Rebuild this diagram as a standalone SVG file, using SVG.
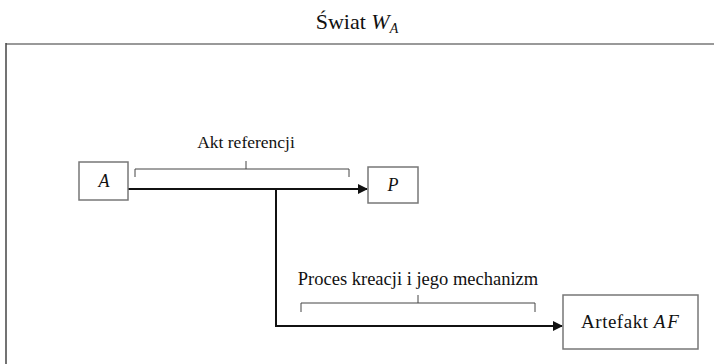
<svg xmlns="http://www.w3.org/2000/svg" width="714" height="364" viewBox="0 0 714 364">
<style>
text{font-family:"Liberation Serif","Times New Roman",serif;fill:#111}
.box{fill:#fff;stroke:#777;stroke-width:1.5}
.conn{fill:none;stroke:#111;stroke-width:2}
.br{fill:none;stroke:#444;stroke-width:1}
</style>
<defs>
<marker id="ah" markerWidth="10" markerHeight="10" refX="9" refY="5" orient="auto" markerUnits="userSpaceOnUse">
<path d="M0,0 L10,5 L0,10 Z" fill="#111"/>
</marker>
</defs>
<rect width="714" height="364" fill="#fff"/>
<g id="frame">
<line x1="6" y1="44" x2="714" y2="44" stroke="#999" stroke-width="2"/>
<line x1="6" y1="43" x2="6" y2="364" stroke="#444" stroke-width="1.5"/>
<text x="357" y="29" font-size="22" text-anchor="middle">Świat <tspan font-style="italic">W</tspan><tspan font-style="italic" font-size="14" dy="4">A</tspan></text>
</g>
<g id="connectors">
<line class="conn" x1="128" y1="189" x2="367" y2="189" marker-end="url(#ah)"/>
<polyline class="conn" points="276,189 276,326 562,326" marker-end="url(#ah)"/>
<path class="br" d="M135,177 V169 H349 V177 M246,169 V161"/>
<text x="246" y="148" font-size="17.5" text-anchor="middle">Akt referencji</text>
<path class="br" d="M301,312 V303 H535 V312 M418,303 V295"/>
<text x="418" y="285" font-size="18.5" text-anchor="middle">Proces kreacji i jego mechanizm</text>
</g>
<g id="node-A">
<rect class="box" x="79" y="162" width="49" height="38"/>
<text x="104" y="187" font-size="18" font-style="italic" text-anchor="middle">A</text>
</g>
<g id="node-P">
<rect class="box" x="368" y="167" width="50" height="36"/>
<text x="393" y="191" font-size="18" font-style="italic" text-anchor="middle">P</text>
</g>
<g id="node-AF">
<rect class="box" x="563" y="295" width="135" height="54"/>
<text x="631" y="328" font-size="19" text-anchor="middle" letter-spacing="0.5">Artefakt <tspan font-style="italic" letter-spacing="2">AF</tspan></text>
</g>
</svg>
